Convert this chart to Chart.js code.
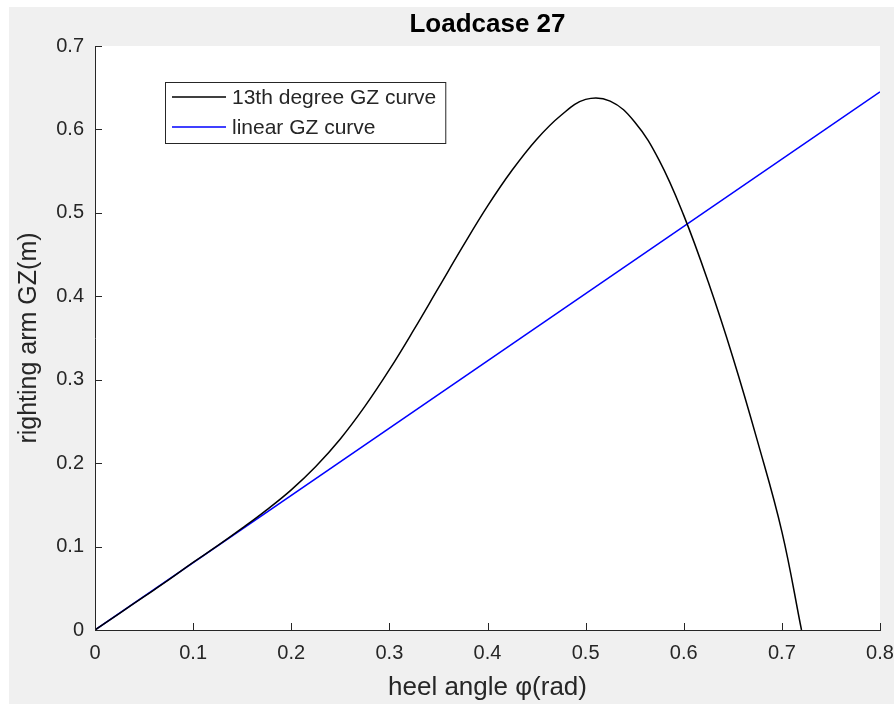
<!DOCTYPE html>
<html>
<head>
<meta charset="utf-8">
<title>Loadcase 27</title>
<script src="https://cdn.jsdelivr.net/npm/chart.js@4.4.1/dist/chart.umd.min.js"></script>
<style>
  body { margin: 0; background: #ffffff; }
  #gz { position: absolute; left: 9px; top: 7px; background: #f0f0f0; }
</style>
</head>
<body>
<canvas id="gz" width="885" height="697"></canvas>
<script>
// heel angle (rad) and righting arm (m)
var heelAngle = [0, 0.025, 0.05, 0.075, 0.1, 0.125, 0.15, 0.175, 0.2, 0.225, 0.25, 0.275, 0.3, 0.325,
                 0.35, 0.375, 0.4, 0.425, 0.45, 0.475, 0.5, 0.525, 0.55, 0.575, 0.6, 0.625,
                 0.65, 0.675, 0.7, 0.72];
var gzPoly = [0, 0.020, 0.040, 0.060, 0.081, 0.101, 0.122, 0.144, 0.168, 0.196, 0.229, 0.268, 0.312, 0.360,
              0.410, 0.460, 0.508, 0.551, 0.588, 0.617, 0.636, 0.634, 0.609, 0.563, 0.497, 0.417,
              0.327, 0.227, 0.118, 0.000];
var linAngle = [0, 0.8];
var gzLinear = [0, 0.645];
var seriesNames = ['13th degree GZ curve', 'linear GZ curve'];
var xTicks = [0, 0.1, 0.2, 0.3, 0.4, 0.5, 0.6, 0.7, 0.8];
var yTicks = [0, 0.1, 0.2, 0.3, 0.4, 0.5, 0.6, 0.7];

var FONT = '"Liberation Sans", Arial, Helvetica, sans-serif';
var INK = '#262626';

function toXY(xs, ys) {
  var out = [];
  for (var i = 0; i < xs.length; i++) out.push({x: xs[i], y: ys[i]});
  return out;
}

// white axes area on the grey figure
var axesFill = {
  id: 'axesFill',
  beforeDraw: function (chart) {
    var a = chart.chartArea;
    chart.ctx.save();
    chart.ctx.fillStyle = '#ffffff';
    chart.ctx.fillRect(a.left, a.top, a.right - a.left, a.bottom - a.top);
    chart.ctx.restore();
  }
};

// MATLAB style inward tick marks
var inwardTicks = {
  id: 'inwardTicks',
  afterDatasetsDraw: function (chart) {
    var ctx = chart.ctx, a = chart.chartArea;
    ctx.save();
    ctx.strokeStyle = INK;
    ctx.lineWidth = 1;
    ctx.beginPath();
    xTicks.forEach(function (v) {
      var px = Math.round(chart.scales.x.getPixelForValue(v)) + 0.5;
      ctx.moveTo(px, a.bottom);
      ctx.lineTo(px, a.bottom - 7);
    });
    yTicks.forEach(function (v) {
      var py = Math.round(chart.scales.y.getPixelForValue(v)) + 0.5;
      ctx.moveTo(a.left, py);
      ctx.lineTo(a.left + 7, py);
    });
    ctx.stroke();
    ctx.restore();
  }
};

// boxed legend inside the axes
var boxLegend = {
  id: 'boxLegend',
  afterDraw: function (chart) {
    var ctx = chart.ctx, a = chart.chartArea;
    var left = a.left + 70, top = a.top + 36;
    ctx.save();
    ctx.font = '21px ' + FONT;
    var w = 0;
    chart.data.datasets.forEach(function (ds) { w = Math.max(w, ctx.measureText(ds.label).width); });
    var boxW = 67 + w + 9, boxH = 61;
    ctx.fillStyle = '#ffffff';
    ctx.fillRect(left, top, boxW, boxH);
    ctx.strokeStyle = INK;
    ctx.lineWidth = 1;
    ctx.strokeRect(left + 0.5, top + 0.5, boxW, boxH);
    ctx.textBaseline = 'middle';
    chart.data.datasets.forEach(function (ds, i) {
      var y = top + 15 + i * 30;
      ctx.strokeStyle = ds.borderColor;
      ctx.lineWidth = 1.5;
      ctx.beginPath();
      ctx.moveTo(left + 7, y);
      ctx.lineTo(left + 61, y);
      ctx.stroke();
      ctx.fillStyle = INK;
      ctx.fillText(ds.label, left + 67, y + 1);
    });
    ctx.restore();
  }
};

new Chart(document.getElementById('gz'), {
  type: 'line',
  data: {
    datasets: [{
      label: seriesNames[0],
      data: toXY(heelAngle, gzPoly),
      borderColor: '#000000',
      borderWidth: 1.5,
      pointRadius: 0,
      fill: false,
      tension: 0.4
    }, {
      label: seriesNames[1],
      data: toXY(linAngle, gzLinear),
      borderColor: '#0000ff',
      borderWidth: 1.5,
      pointRadius: 0,
      fill: false
    }]
  },
  options: {
    responsive: false,
    animation: false,
    layout: { padding: { left: 0, right: 14, top: 0, bottom: 0 } },
    plugins: {
      legend: { display: false },
      tooltip: { enabled: false },
      title: {
        display: true,
        fullSize: false,
        text: 'Loadcase 27',
        color: '#000000',
        font: { family: FONT, size: 26, weight: 'bold', lineHeight: 1.2 },
        padding: { top: 2, bottom: 5.8 }
      }
    },
    scales: {
      x: {
        type: 'linear',
        min: 0, max: 0.8,
        afterFit: function (s) { s.height = 74; s.paddingRight = 14; },
        afterBuildTicks: function (s) { s.ticks = xTicks.map(function (v) { return {value: v}; }); },
        grid: { drawOnChartArea: false, drawTicks: false, color: 'rgba(0,0,0,0)' },
        border: { display: true, color: INK, width: 1 },
        ticks: { color: INK, padding: 11, font: { family: FONT, size: 20 }, maxRotation: 0 },
        title: {
          display: true, text: 'heel angle φ(rad)', color: INK,
          font: { family: FONT, size: 26, lineHeight: 1.2 },
          padding: { top: 0, bottom: 0.4 }
        }
      },
      y: {
        type: 'linear',
        min: 0, max: 0.7,
        afterFit: function (s) { s.width = 86; },
        afterBuildTicks: function (s) { s.ticks = yTicks.map(function (v) { return {value: v}; }); },
        grid: { drawOnChartArea: false, drawTicks: false, color: 'rgba(0,0,0,0)' },
        border: { display: true, color: INK, width: 1 },
        ticks: { color: INK, padding: 11, font: { family: FONT, size: 20 } },
        title: {
          display: true, text: 'righting arm GZ(m)', color: INK,
          font: { family: FONT, size: 25, lineHeight: 1.2 },
          padding: { top: 5, bottom: 0 }
        }
      }
    }
  },
  plugins: [axesFill, inwardTicks, boxLegend]
});
</script>
</body>
</html>
